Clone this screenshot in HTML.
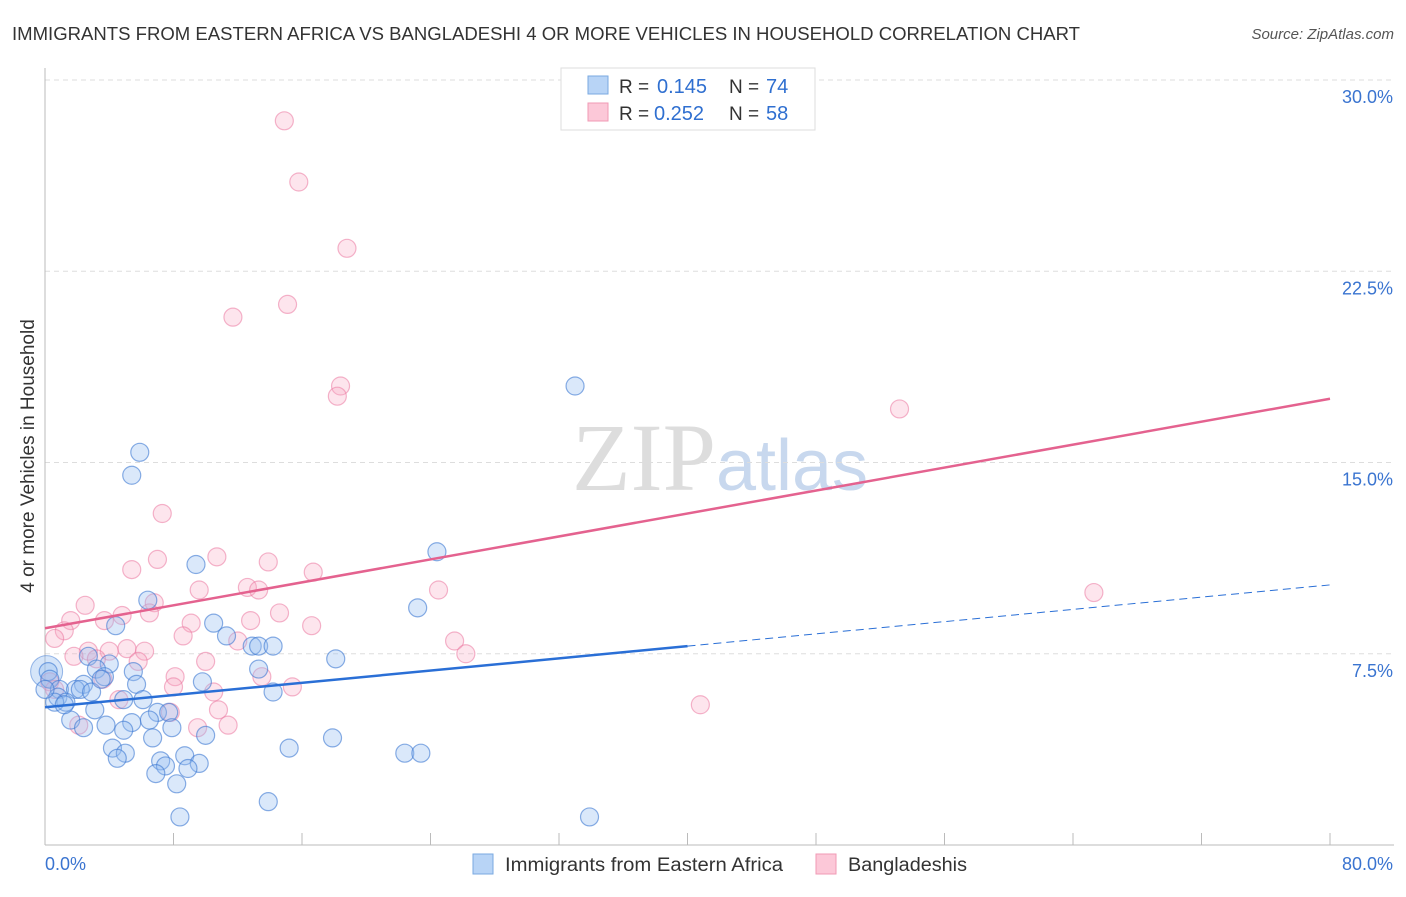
<!DOCTYPE html>
<html><head><meta charset="utf-8"><style>
body{margin:0;background:#fff;font-family:"Liberation Sans",sans-serif}
</style></head><body>
<svg id="chart" width="1406" height="892" xmlns="http://www.w3.org/2000/svg" font-family="Liberation Sans, sans-serif">
<text x="12" y="40" font-size="18" fill="#333" textLength="1068" lengthAdjust="spacingAndGlyphs">IMMIGRANTS FROM EASTERN AFRICA VS BANGLADESHI 4 OR MORE VEHICLES IN HOUSEHOLD CORRELATION CHART</text>
<text x="1394" y="39" font-size="15" fill="#555" font-style="italic" text-anchor="end">Source: ZipAtlas.com</text>
<text x="720" y="490" font-size="96" text-anchor="middle" fill="#ddd" font-family="Liberation Serif, serif">ZIP<tspan fill="#c8d8ee" font-family="Liberation Sans, sans-serif" font-size="72">atlas</tspan></text>
<g id="grid"></g>
<g id="axes"></g>
<g id="pts"></g>
<g id="trends"></g>
<text transform="translate(34,456) rotate(-90)" font-size="19" fill="#333" text-anchor="middle">4 or more Vehicles in Household</text>
<g>
<rect x="561" y="68" width="254" height="62" fill="#fff" stroke="#ddd"/>
<rect x="588" y="76" width="20" height="18" fill="#b8d4f6" stroke="#7aa9e0"/>
<rect x="588" y="103" width="20" height="18" fill="#fcc8d8" stroke="#f09ab5"/>
<text x="619" y="93" font-size="19" fill="#333">R =</text>
<text x="657" y="93" font-size="20" fill="#2f6fd0">0.145</text>
<text x="729" y="93" font-size="19" fill="#333">N =</text>
<text x="766" y="93" font-size="20" fill="#2f6fd0">74</text>
<text x="619" y="120" font-size="19" fill="#333">R =</text>
<text x="654" y="120" font-size="20" fill="#2f6fd0">0.252</text>
<text x="729" y="120" font-size="19" fill="#333">N =</text>
<text x="766" y="120" font-size="20" fill="#2f6fd0">58</text>
</g>
<g>
<rect x="473" y="854" width="20" height="20" fill="#b8d4f6" stroke="#7aa9e0"/>
<text x="505" y="871" font-size="19" fill="#333" textLength="278" lengthAdjust="spacingAndGlyphs">Immigrants from Eastern Africa</text>
<rect x="816" y="854" width="20" height="20" fill="#fcc8d8" stroke="#f09ab5"/>
<text x="848" y="871" font-size="19" fill="#333" textLength="119" lengthAdjust="spacingAndGlyphs">Bangladeshis</text>
</g>
</svg>
<script>
const yTicks=[7.5,15,22.5,30];
const yTickLabels=["7.5%","15.0%","22.5%","30.0%"];
const xTickLabels=["0.0%","80.0%"];
const blueX=[33.0,5.9,5.4,24.4,9.4,6.4,23.2,4.4,10.5,11.3,12.9,13.3,14.2,2.7,4.0,18.1,3.2,5.5,13.3,3.7,0.2,0.3,2.4,5.7,9.8,0.9,1.9,2.2,2.9,14.2,0.8,6.1,1.3,0.6,3.1,7.0,7.7,1.6,6.5,5.4,3.8,2.4,7.9,4.9,10.0,6.7,17.9,4.2,15.2,5.0,8.7,22.4,23.4,4.5,7.2,9.6,7.5,8.9,6.9,8.2,13.9,8.4,33.9,4.9,0.0,1.2,3.5];
const blueY=[18.0,15.4,14.5,11.5,11.0,9.6,9.3,8.6,8.7,8.2,7.8,7.8,7.8,7.4,7.1,7.3,6.9,6.8,6.9,6.6,6.8,6.5,6.3,6.3,6.4,6.1,6.1,6.1,6.0,6.0,5.8,5.7,5.6,5.6,5.3,5.2,5.2,4.9,4.9,4.8,4.7,4.6,4.6,4.5,4.3,4.2,4.2,3.8,3.8,3.6,3.5,3.6,3.6,3.4,3.3,3.2,3.1,3.0,2.8,2.4,1.7,1.1,1.1,5.7,6.1,5.5,6.5];
const pinkX=[14.9,15.8,18.8,15.1,11.7,18.4,18.2,53.2,7.3,10.7,7.0,13.9,5.4,16.7,12.6,13.3,9.6,24.5,65.3,2.5,6.8,4.8,6.5,14.6,1.6,3.7,9.1,12.8,16.6,1.2,0.6,8.6,12.0,25.5,2.7,4.0,5.1,6.2,1.8,26.2,3.2,5.8,10.0,8.1,13.5,0.3,3.6,8.0,15.4,10.5,4.6,40.8,10.8,7.8,2.1,9.5,11.4,0.6];
const pinkY=[28.4,26.0,23.4,21.2,20.7,18.0,17.6,17.1,13.0,11.3,11.2,11.1,10.8,10.7,10.1,10.0,10.0,10.0,9.9,9.4,9.5,9.0,9.1,9.1,8.8,8.8,8.7,8.8,8.6,8.4,8.1,8.2,8.0,8.0,7.6,7.6,7.7,7.6,7.4,7.5,7.3,7.2,7.2,6.6,6.6,6.4,6.5,6.2,6.2,6.0,5.7,5.5,5.3,5.2,4.7,4.6,4.7,6.1];
const blueTrend=[5.4,7.8];
const blueTrendEnd=10.2;
const pinkTrend=[8.5,17.5];
const NS="http://www.w3.org/2000/svg";
const sx=v=>45+v*(1330-45)/80;
const sy=v=>845-v*(845-80)/30;
function mk(tag,attrs,parent){const e=document.createElementNS(NS,tag);for(const k in attrs)e.setAttribute(k,attrs[k]);parent.appendChild(e);return e;}
const grid=document.getElementById('grid'),axes=document.getElementById('axes'),pts=document.getElementById('pts'),tr=document.getElementById('trends');
yTicks.forEach((t,i)=>{
 const l=mk('line',{x1:45,x2:1394,y1:sy(t),y2:sy(t),stroke:'#ddd','stroke-dasharray':'5,4'},grid);
 
 
 const tx=mk('text',{x:1393,y:sy(t)+23,'font-size':18,fill:'#3a74d0','text-anchor':'end'},axes);
 tx.textContent=yTickLabels[i];
 
 
});
const ya=mk('line',{x1:45,x2:45,y1:68,y2:845,stroke:'#bbb'},axes);


const xa=mk('line',{x1:45,x2:1394,y1:845,y2:845,stroke:'#bbb'},axes);


for(let i=0;i<=10;i++){const v=i*8;const t=mk('line',{x1:sx(v),x2:sx(v),y1:833,y2:845,stroke:'#bbb'},axes);
 
 }
[[0,'start',45],[80,'end',1393]].forEach((a,i)=>{const t=mk('text',{x:a[2],y:870,'font-size':18,fill:'#3a74d0','text-anchor':a[1]},axes);t.textContent=xTickLabels[i];
 
 });
const big=mk('circle',{cx:sx(0.1),cy:sy(6.8),r:16,fill:'rgba(150,190,240,0.4)',stroke:'rgba(60,120,210,0.5)'},pts);


pinkX.forEach((x,i)=>{const c=mk('circle',{cx:sx(x),cy:sy(pinkY[i]),r:9,fill:'rgba(248,170,195,0.3)',stroke:'rgba(235,120,160,0.55)','stroke-width':1.2},pts);
 
 });
blueX.forEach((x,i)=>{const c=mk('circle',{cx:sx(x),cy:sy(blueY[i]),r:9,fill:'rgba(150,190,240,0.35)',stroke:'rgba(60,120,210,0.6)','stroke-width':1.2},pts);
 
 });
const bt=mk('line',{x1:sx(0),y1:sy(blueTrend[0]),x2:sx(40),y2:sy(blueTrend[1]),stroke:'#2a6fd6','stroke-width':2.5},tr);


const bd=mk('line',{x1:sx(40),y1:sy(blueTrend[1]),x2:sx(80),y2:sy(blueTrendEnd),stroke:'#2a6fd6','stroke-width':1,'stroke-dasharray':'8,5'},tr);


const pt=mk('line',{x1:sx(0),y1:sy(pinkTrend[0]),x2:sx(80),y2:sy(pinkTrend[1]),stroke:'#e4628f','stroke-width':2.5},tr);


</script>
</body></html>
